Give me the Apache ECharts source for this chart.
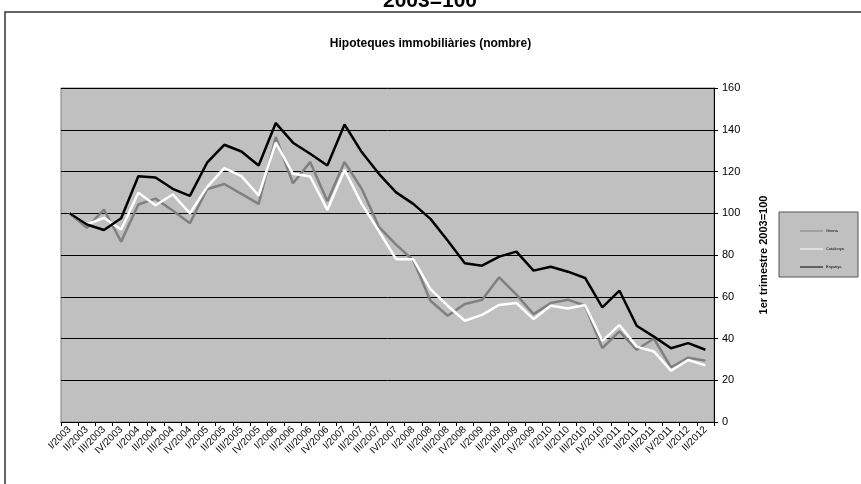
<!DOCTYPE html>
<html>
<head>
<meta charset="utf-8">
<script src="https://cdn.jsdelivr.net/npm/echarts@6/dist/echarts.min.js"></script>
<style>
  html, body { margin: 0; padding: 0; background: #fff; }
  #chart { width: 861px; height: 484px; }
</style>
</head>
<body>
<div id="chart"></div>
<script>
// quarters I/2003 .. II/2012
var quarters = ['I/2003','II/2003','III/2003','IV/2003','I/2004','II/2004','III/2004','IV/2004',
  'I/2005','II/2005','III/2005','IV/2005','I/2006','II/2006','III/2006','IV/2006',
  'I/2007','II/2007','III/2007','IV/2007','I/2008','II/2008','III/2008','IV/2008',
  'I/2009','II/2009','III/2009','IV/2009','I/2010','II/2010','III/2010','IV/2010',
  'I/2011','II/2011','III/2011','IV/2011','I/2012','II/2012'];

var girona = [100, 93, 101.8, 86.4, 104.2, 107, 101.3, 95.2,
  111.5, 114, 109.3, 104.5, 136.5, 114.4, 124.5, 105.8,
  124.5, 111.7, 93.5, 85, 77.5, 58.1, 50.9, 56.5,
  58.5, 69.3, 61, 51.7, 57, 58.6, 55.7, 35.4,
  43.4, 34.6, 40, 26.2, 30.8, 29.4];

var catalunya = [100, 94.6, 97.8, 92.2, 109.8, 103.8, 109, 100,
  112.5, 121.6, 117.8, 108.5, 133.8, 118.9, 117.6, 101.6,
  120.8, 104.5, 91.4, 78, 78, 63.7, 55.7, 48.5,
  51.3, 56.1, 57, 49.3, 55.7, 54.4, 56, 38.9,
  46.5, 36.1, 33.8, 24.6, 29.7, 27.1];

var espanya = [100, 94.6, 92, 97.6, 117.7, 117.1, 111.7, 108.3,
  124.2, 132.8, 129.6, 122.9, 143.2, 133.8, 128.5, 122.9,
  142.5, 129.3, 118.9, 110, 104.5, 97.3, 86.9, 76,
  74.9, 79.2, 81.6, 72.5, 74.4, 72, 69, 54.9,
  62.9, 46.1, 40.9, 35.3, 37.8, 34.6];

var FONT = 'Liberation Sans, Arial, sans-serif';

var chart = echarts.init(document.getElementById('chart'));
chart.setOption({
  backgroundColor: '#fff',
  animation: false,
  title: {
    text: 'Hipoteques immobiliàries (nombre)',
    left: 'center',
    top: 33,
    textStyle: { fontFamily: FONT, fontSize: 12, fontWeight: 'bold', color: '#000' }
  },
  graphic: [
    {
      type: 'rect',
      shape: { x: 5, y: 12, width: 900, height: 520 },
      style: { fill: 'none', stroke: '#333', lineWidth: 1.5 },
      silent: true
    },
    {
      type: 'text',
      style: {
        text: '2003=100', x: 430, y: 12, align: 'center', verticalAlign: 'bottom',
        font: 'bold 21px ' + FONT, fill: '#000'
      },
      silent: true
    }
  ],
  legend: {
    orient: 'vertical',
    left: 779,
    top: 212,
    padding: [17, 14, 8, 21],
    itemGap: 14,
    itemWidth: 23,
    itemHeight: 5,
    icon: 'path://M0,2 L23,2 L23,3 L0,3 Z',
    backgroundColor: '#c0c0c0',
    borderColor: '#555',
    borderWidth: 1,
    textStyle: { fontFamily: FONT, fontSize: 4, color: '#000', padding: [0, 0, 0, -2] },
    data: ['Girona', 'Catalunya', 'Espanya']
  },
  grid: {
    left: 61, right: 147, top: 88, bottom: 62,
    show: true,
    backgroundColor: '#c0c0c0',
    borderColor: '#808080',
    borderWidth: 1
  },
  xAxis: {
    type: 'category',
    data: quarters,
    boundaryGap: true,
    axisLine: { lineStyle: { color: '#000', width: 1 } },
    axisTick: { show: true, length: 4, lineStyle: { color: '#000' } },
    axisLabel: { interval: 0, rotate: 45, fontFamily: FONT, fontSize: 10, color: '#000', margin: 6 },
    splitLine: { show: false }
  },
  yAxis: {
    type: 'value',
    position: 'right',
    min: 0, max: 160, interval: 20,
    name: '1er trimestre 2003=100',
    nameLocation: 'middle',
    nameGap: 44,
    nameRotate: 90,
    nameTextStyle: { fontFamily: FONT, fontSize: 11, fontWeight: 'bold', color: '#000' },
    axisLine: { show: true, lineStyle: { color: '#000', width: 1 } },
    axisTick: { show: true, length: 4, lineStyle: { color: '#000' } },
    axisLabel: { fontFamily: FONT, fontSize: 11, color: '#000', margin: 8 },
    splitLine: { show: true, lineStyle: { color: '#000', width: 1 } }
  },
  series: [
    { name: 'Girona', type: 'line', data: girona, symbol: 'none',
      lineStyle: { color: '#808080', width: 2.5 }, itemStyle: { color: '#808080' } },
    { name: 'Catalunya', type: 'line', data: catalunya, symbol: 'none',
      lineStyle: { color: '#ffffff', width: 2.5 }, itemStyle: { color: '#ffffff' } },
    { name: 'Espanya', type: 'line', data: espanya, symbol: 'none',
      lineStyle: { color: '#000000', width: 2.5 }, itemStyle: { color: '#000000' } }
  ]
});
</script>
</body>
</html>
